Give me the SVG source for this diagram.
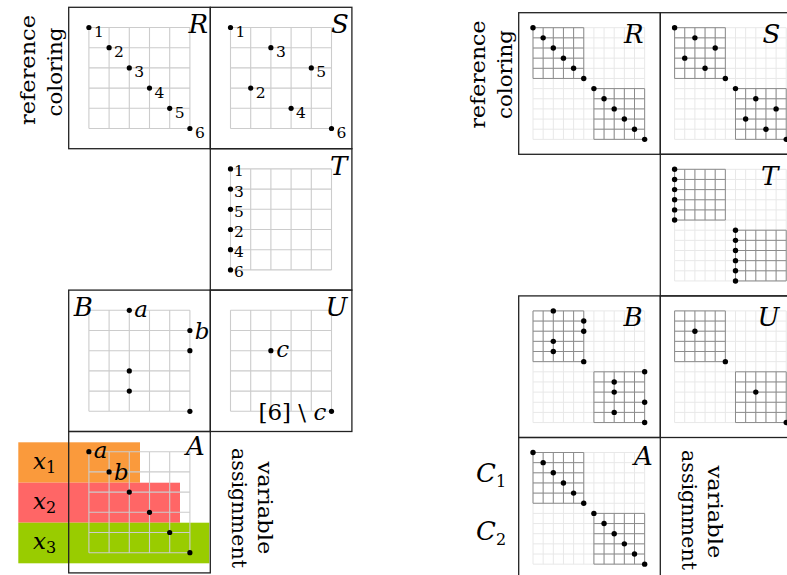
<svg xmlns="http://www.w3.org/2000/svg" xmlns:xlink="http://www.w3.org/1999/xlink" width="787" height="575" viewBox="0 0 787 575">
<style>
.box{fill:none;stroke:#222;stroke-width:1.3}
.gl{fill:none;stroke:#cccccc;stroke-width:1.1}
.grl{fill:none;stroke:#e8e8e8;stroke-width:1}
.grd{fill:none;stroke:#8c8c8c;stroke-width:1}
circle{fill:#000}
.big{font-style:italic;font-size:26px}
.num{font-size:15.5px}
.var{font-style:italic;font-size:23px}
.rot{font-size:21px}
.sub{font-style:normal;font-size:16px}
</style>
<defs>
<path id="gridL" class="gl" d="M20.2 20.2V121.2M40.4 20.2V121.2M60.6 20.2V121.2M80.8 20.2V121.2M101 20.2V121.2M121.2 20.2V121.2M20.2 20.2H121.2M20.2 40.4H121.2M20.2 60.6H121.2M20.2 80.8H121.2M20.2 101H121.2M20.2 121.2H121.2"/>
<g id="gridR">
<path class="grl" d="M14.3 15V126.65M24.45 15V126.65M34.6 15V126.65M44.75 15V126.65M54.9 15V126.65M65.05 15V126.65M75.2 15V126.65M85.35 15V126.65M95.5 15V126.65M105.65 15V126.65M115.8 15V126.65M125.95 15V126.65M14.3 15H125.95M14.3 25.15H125.95M14.3 35.3H125.95M14.3 45.45H125.95M14.3 55.6H125.95M14.3 65.75H125.95M14.3 75.9H125.95M14.3 86.05H125.95M14.3 96.2H125.95M14.3 106.35H125.95M14.3 116.5H125.95M14.3 126.65H125.95"/>
<path class="grd" d="M14.3 15V65.75M24.45 15V65.75M34.6 15V65.75M44.75 15V65.75M54.9 15V65.75M65.05 15V65.75M14.3 15H65.05M14.3 25.15H65.05M14.3 35.3H65.05M14.3 45.45H65.05M14.3 55.6H65.05M14.3 65.75H65.05M75.2 75.9V126.65M85.35 75.9V126.65M95.5 75.9V126.65M105.65 75.9V126.65M115.8 75.9V126.65M125.95 75.9V126.65M75.2 75.9H125.95M75.2 86.05H125.95M75.2 96.2H125.95M75.2 106.35H125.95M75.2 116.5H125.95M75.2 126.65H125.95"/>
</g>
</defs>
<rect width="787" height="575" fill="#fff"/>
<g font-family="DejaVu Serif, serif">
<!-- LEFT DIAGRAM -->
<g id="left-labels">
<text class="rot" transform="translate(35,70) rotate(-90)" text-anchor="middle" textLength="110" lengthAdjust="spacingAndGlyphs">reference</text>
<text class="rot" transform="translate(62,72) rotate(-90)" text-anchor="middle" textLength="89" lengthAdjust="spacingAndGlyphs">coloring</text>
<text class="rot" transform="translate(258,508) rotate(90)" text-anchor="middle" textLength="93" lengthAdjust="spacingAndGlyphs">variable</text>
<text class="rot" transform="translate(232,508) rotate(90)" text-anchor="middle" textLength="120" lengthAdjust="spacingAndGlyphs">assignment</text>
</g>

<g id="left-bands">
<rect x="18.3" y="442.3" width="121.7" height="40.4" fill="#FA9A3C"/>
<rect x="18.3" y="482.7" width="161.7" height="40" fill="#FF6666"/>
<rect x="18.3" y="522.7" width="191" height="40.6" fill="#99CC00"/>
<text class="var" x="33" y="469">x<tspan class="sub" dy="4">1</tspan></text>
<text class="var" x="33" y="509">x<tspan class="sub" dy="4">2</tspan></text>
<text class="var" x="33" y="549">x<tspan class="sub" dy="4">3</tspan></text>
</g>

<g id="L-R" transform="translate(68.7,7.3)">
<rect class="box" width="141.6" height="141.4"/>
<use xlink:href="#gridL"/>
<circle cx="20.2" cy="20.2" r="2.6"/><circle cx="40.4" cy="40.4" r="2.6"/><circle cx="60.6" cy="60.6" r="2.6"/><circle cx="80.8" cy="80.8" r="2.6"/><circle cx="101" cy="101" r="2.6"/><circle cx="121.2" cy="121.2" r="2.6"/>
<text class="num" x="25.2" y="29.8">1</text><text class="num" x="45.4" y="50">2</text><text class="num" x="65.6" y="70.2">3</text><text class="num" x="85.8" y="90.4">4</text><text class="num" x="106" y="110.6">5</text><text class="num" x="126.2" y="130.8">6</text>
<text class="big" x="139.5" y="26" text-anchor="end">R</text>
</g>

<g id="L-S" transform="translate(210.3,7.3)">
<rect class="box" width="141.6" height="141.4"/>
<use xlink:href="#gridL"/>
<circle cx="20.2" cy="20.2" r="2.6"/><circle cx="40.4" cy="80.8" r="2.6"/><circle cx="60.6" cy="40.4" r="2.6"/><circle cx="80.8" cy="101" r="2.6"/><circle cx="101" cy="60.6" r="2.6"/><circle cx="121.2" cy="121.2" r="2.6"/>
<text class="num" x="25.2" y="29.8">1</text><text class="num" x="45.4" y="90.4">2</text><text class="num" x="65.6" y="50">3</text><text class="num" x="85.8" y="110.6">4</text><text class="num" x="106" y="70.2">5</text><text class="num" x="126.2" y="130.8">6</text>
<text class="big" x="138.5" y="26" text-anchor="end">S</text>
</g>

<g id="L-T" transform="translate(210.3,148.7)">
<rect class="box" width="141.6" height="141.4"/>
<use xlink:href="#gridL"/>
<circle cx="20.2" cy="20.2" r="2.6"/><circle cx="20.2" cy="40.4" r="2.6"/><circle cx="20.2" cy="60.6" r="2.6"/><circle cx="20.2" cy="80.8" r="2.6"/><circle cx="20.2" cy="101" r="2.6"/><circle cx="20.2" cy="121.2" r="2.6"/>
<text class="num" x="23.8" y="27.8">1</text><text class="num" x="23.8" y="48">3</text><text class="num" x="23.8" y="68.2">5</text><text class="num" x="23.8" y="88.4">2</text><text class="num" x="23.8" y="108.6">4</text><text class="num" x="23.8" y="128.8">6</text>
<text class="big" x="137" y="26" text-anchor="end">T</text>
</g>

<g id="L-B" transform="translate(68.7,290.1)">
<rect class="box" width="141.6" height="141.4"/>
<use xlink:href="#gridL"/>
<circle cx="60.6" cy="20.2" r="2.6"/><circle cx="121.2" cy="40.4" r="2.6"/><circle cx="121.2" cy="60.6" r="2.6"/><circle cx="60.6" cy="80.8" r="2.6"/><circle cx="60.6" cy="101" r="2.6"/><circle cx="121.2" cy="121.2" r="2.6"/>
<text class="var" x="65.5" y="26.8">a</text>
<text class="var" x="126" y="49.4">b</text>
<text class="big" x="5" y="26">B</text>
</g>

<g id="L-U" transform="translate(210.3,290.1)">
<rect class="box" width="141.6" height="141.4"/>
<use xlink:href="#gridL"/>
<circle cx="60.6" cy="60.6" r="2.6"/><circle cx="121.2" cy="121.2" r="2.6"/>
<text class="var" x="66" y="66.6">c</text>
<text class="var" x="116" y="129.5" text-anchor="end"><tspan font-style="normal">[6] \ </tspan>c</text>
<text class="big" x="137" y="26" text-anchor="end">U</text>
</g>

<g id="L-A" transform="translate(68.7,431.5)">
<rect class="box" width="141.6" height="141.4"/>
<use xlink:href="#gridL"/>
<circle cx="20.2" cy="20.2" r="2.6"/><circle cx="40.4" cy="40.4" r="2.6"/><circle cx="60.6" cy="60.6" r="2.6"/><circle cx="80.8" cy="80.8" r="2.6"/><circle cx="101" cy="101" r="2.6"/><circle cx="121.2" cy="121.2" r="2.6"/>
<text class="var" x="25" y="26.5">a</text>
<text class="var" x="45.2" y="48.5">b</text>
<text class="big" x="136" y="23.5" text-anchor="end">A</text>
</g>

<!-- RIGHT DIAGRAM -->
<g id="right-labels">
<text class="rot" transform="translate(485,74.5) rotate(-90)" text-anchor="middle" textLength="108" lengthAdjust="spacingAndGlyphs">reference</text>
<text class="rot" transform="translate(512,74.5) rotate(-90)" text-anchor="middle" textLength="89" lengthAdjust="spacingAndGlyphs">coloring</text>
<text class="rot" transform="translate(708,512) rotate(90)" text-anchor="middle" textLength="93" lengthAdjust="spacingAndGlyphs">variable</text>
<text class="rot" transform="translate(682,510) rotate(90)" text-anchor="middle" textLength="120" lengthAdjust="spacingAndGlyphs">assignment</text>
<text class="big" x="476" y="481.7">C<tspan class="sub" dy="5">1</tspan></text>
<text class="big" x="476" y="540">C<tspan class="sub" dy="5">2</tspan></text>
</g>

<g id="R-R" transform="translate(518.7,12.7)">
<rect class="box" width="141.6" height="141.6"/>
<use xlink:href="#gridR"/>
<circle cx="14.3" cy="15" r="2.7"/><circle cx="24.45" cy="25.15" r="2.7"/><circle cx="34.6" cy="35.3" r="2.7"/><circle cx="44.75" cy="45.45" r="2.7"/><circle cx="54.9" cy="55.6" r="2.7"/><circle cx="65.05" cy="65.75" r="2.7"/><circle cx="75.2" cy="75.9" r="2.7"/><circle cx="85.35" cy="86.05" r="2.7"/><circle cx="95.5" cy="96.2" r="2.7"/><circle cx="105.65" cy="106.35" r="2.7"/><circle cx="115.8" cy="116.5" r="2.7"/><circle cx="125.95" cy="126.65" r="2.7"/>
<text class="big" x="125" y="30" text-anchor="end">R</text>
</g>

<g id="R-S" transform="translate(660.3,12.7)">
<rect class="box" width="141.6" height="141.6"/>
<use xlink:href="#gridR"/>
<circle cx="14.3" cy="15" r="2.7"/><circle cx="24.45" cy="45.45" r="2.7"/><circle cx="34.6" cy="25.15" r="2.7"/><circle cx="44.75" cy="55.6" r="2.7"/><circle cx="54.9" cy="35.3" r="2.7"/><circle cx="65.05" cy="65.75" r="2.7"/><circle cx="75.2" cy="75.9" r="2.7"/><circle cx="85.35" cy="106.35" r="2.7"/><circle cx="95.5" cy="86.05" r="2.7"/><circle cx="105.65" cy="116.5" r="2.7"/><circle cx="115.8" cy="96.2" r="2.7"/><circle cx="125.95" cy="126.65" r="2.7"/>
<text class="big" x="120" y="30" text-anchor="end">S</text>
</g>

<g id="R-T" transform="translate(660.3,154.3)">
<rect class="box" width="141.6" height="141.6"/>
<use xlink:href="#gridR"/>
<circle cx="14.3" cy="15" r="2.7"/><circle cx="14.3" cy="25.15" r="2.7"/><circle cx="14.3" cy="35.3" r="2.7"/><circle cx="14.3" cy="45.45" r="2.7"/><circle cx="14.3" cy="55.6" r="2.7"/><circle cx="14.3" cy="65.75" r="2.7"/><circle cx="75.2" cy="75.9" r="2.7"/><circle cx="75.2" cy="86.05" r="2.7"/><circle cx="75.2" cy="96.2" r="2.7"/><circle cx="75.2" cy="106.35" r="2.7"/><circle cx="75.2" cy="116.5" r="2.7"/><circle cx="75.2" cy="126.65" r="2.7"/>
<text class="big" x="118" y="30.7" text-anchor="end">T</text>
</g>

<g id="R-B" transform="translate(518.7,295.9)">
<rect class="box" width="141.6" height="141.6"/>
<use xlink:href="#gridR"/>
<circle cx="34.6" cy="15" r="2.7"/><circle cx="65.05" cy="25.15" r="2.7"/><circle cx="65.05" cy="35.3" r="2.7"/><circle cx="34.6" cy="45.45" r="2.7"/><circle cx="34.6" cy="55.6" r="2.7"/><circle cx="65.05" cy="65.75" r="2.7"/><circle cx="125.95" cy="75.9" r="2.7"/><circle cx="95.5" cy="86.05" r="2.7"/><circle cx="95.5" cy="96.2" r="2.7"/><circle cx="125.95" cy="106.35" r="2.7"/><circle cx="95.5" cy="116.5" r="2.7"/><circle cx="125.95" cy="126.65" r="2.7"/>
<text class="big" x="124" y="30.4" text-anchor="end">B</text>
</g>

<g id="R-U" transform="translate(660.3,295.9)">
<rect class="box" width="141.6" height="141.6"/>
<use xlink:href="#gridR"/>
<circle cx="34.6" cy="35.3" r="2.7"/><circle cx="65.05" cy="65.75" r="2.7"/><circle cx="95.5" cy="96.2" r="2.7"/><circle cx="125.95" cy="126.65" r="2.7"/>
<text class="big" x="119" y="30.4" text-anchor="end">U</text>
</g>

<g id="R-A" transform="translate(518.7,437.5)">
<rect class="box" width="141.6" height="141.6"/>
<use xlink:href="#gridR"/>
<circle cx="14.3" cy="15" r="2.7"/><circle cx="24.45" cy="25.15" r="2.7"/><circle cx="34.6" cy="35.3" r="2.7"/><circle cx="44.75" cy="45.45" r="2.7"/><circle cx="54.9" cy="55.6" r="2.7"/><circle cx="65.05" cy="65.75" r="2.7"/><circle cx="75.2" cy="75.9" r="2.7"/><circle cx="85.35" cy="86.05" r="2.7"/><circle cx="95.5" cy="96.2" r="2.7"/><circle cx="105.65" cy="106.35" r="2.7"/><circle cx="115.8" cy="116.5" r="2.7"/><circle cx="125.95" cy="126.65" r="2.7"/>
<text class="big" x="134" y="27.8" text-anchor="end">A</text>
</g>
</g>
<g id="connectors"/>
</svg>
